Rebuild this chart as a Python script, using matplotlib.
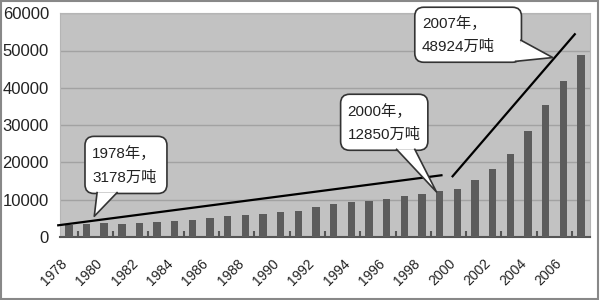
import numpy as np
import matplotlib
matplotlib.use("Agg")
from matplotlib import pyplot as plt
from matplotlib.patches import FancyBboxPatch, Polygon, Rectangle
from matplotlib.transforms import IdentityTransform

plt.rcParams['font.family'] = ['Liberation Sans', 'Noto Sans CJK SC', 'DejaVu Sans']

# data: crude steel output, 10k tonnes
years = list(range(1978, 2008))
output = [3178, 3448, 3712, 3560, 3716, 4002, 4347, 4679, 5221, 5628,
          5943, 6159, 6635, 7100, 8094, 8956, 9261, 9536, 10124, 10894,
          11559, 12426, 12850, 15163, 18237, 22234, 28291, 35324, 41915, 48924]
tick_years = list(range(1978, 2007, 2))
yticks = [0, 10000, 20000, 30000, 40000, 50000, 60000]

# callout texts
notes = [("1978年，", "3178万吨"), ("2000年，", "12850万吨"), ("2007年，", "48924万吨")]

##########################################

fig = plt.figure(figsize=(6, 3), dpi=100)
ax = fig.add_axes([0.1, 0.21, 0.883, 0.746])
ax.set_facecolor('#c2c2c2')

x = np.arange(len(years))
ax.bar(x, output, width=0.42, color='#5c5c5c', zorder=3)

ax.set_xlim(-0.5, len(years) - 0.5)
ax.set_ylim(0, 60000)
ax.set_yticks(yticks)
ax.set_yticklabels([str(v) for v in yticks], fontsize=12, color='#222')
ax.yaxis.grid(True, color='#a2a2a2', lw=1, zorder=1)
ax.tick_params(axis='y', length=0, pad=8)

#labels sit on the category boundaries like excel
ax.set_xticks([years.index(y) - 0.5 for y in tick_years])
ax.set_xticklabels([str(y) for y in tick_years], rotation=45, ha='right', va='top',
                   rotation_mode='anchor', fontsize=10, color='#222')
ax.tick_params(axis='x', length=0, pad=14)
ax.set_xticks(np.arange(len(years)) - 0.5, minor=True)
ax.tick_params(axis='x', which='minor', direction='in', length=4, width=1.5, color='#555')

for s in ['top', 'right', 'left']:
  ax.spines[s].set_color('#b5b5b5')
ax.spines['bottom'].set_color('#555')
ax.spines['bottom'].set_linewidth(1.5)

# trend lines
ax.plot([-0.6, 21.1], [3140, 16550], color='black', lw=1.6, zorder=4, clip_on=False)
ax.plot([21.73, 28.65], [16280, 54360], color='black', lw=1.6, zorder=4, clip_on=False)

def callout(box, tip, base, lines):
  '''rounded box with a pointer, box/tip/base in data coords'''
  T = ax.transData.transform
  (x0, y0), (x1, y1) = T([(box[0], box[2]), (box[1], box[3])])
  bx = FancyBboxPatch((x0, y0), x1 - x0, y1 - y0, boxstyle="round,pad=0,rounding_size=9",
                      transform=IdentityTransform(), fc='white', ec='#333', lw=1.2,
                      zorder=6, clip_on=False)
  fig.add_artist(bx)
  pts = T([base[0], tip, base[1]])
  fill = Polygon(pts, closed=True, transform=IdentityTransform(), fc='white', ec='none',
                 zorder=7, clip_on=False)
  fig.add_artist(fill)
  fig.add_artist(plt.Line2D(pts[:, 0], pts[:, 1], transform=IdentityTransform(),
                            color='#333', lw=1.2, zorder=8))
  tx = x0 + 7
  fig.text(tx / 600, (y1 - (y1 - y0) * 0.3) / 300, lines[0], fontsize=11, va='center',
           color='#222', zorder=9)
  fig.text(tx / 600, (y1 - (y1 - y0) * 0.72) / 300, lines[1], fontsize=11, va='center',
           color='#222', zorder=9)

callout((0.915, 5.556, 11670, 26980), (1.44, 5550), [(1.6, 11900), (2.73, 11900)], notes[0])
callout((15.39, 20.33, 23250, 38270), (20.82, 12070), [(18.56, 23500), (19.59, 23500)], notes[1])
callout((19.59, 25.63, 46850, 61600), (27.4, 48110), [(25.6, 52750), (25.3, 47100)], notes[2])

#frame around the picture
fig.add_artist(Rectangle((0.001, 0.003), 0.996, 0.994, transform=fig.transFigure,
                         fc='none', ec='#888', lw=1.5))

fig.savefig('out.png', dpi=100)
